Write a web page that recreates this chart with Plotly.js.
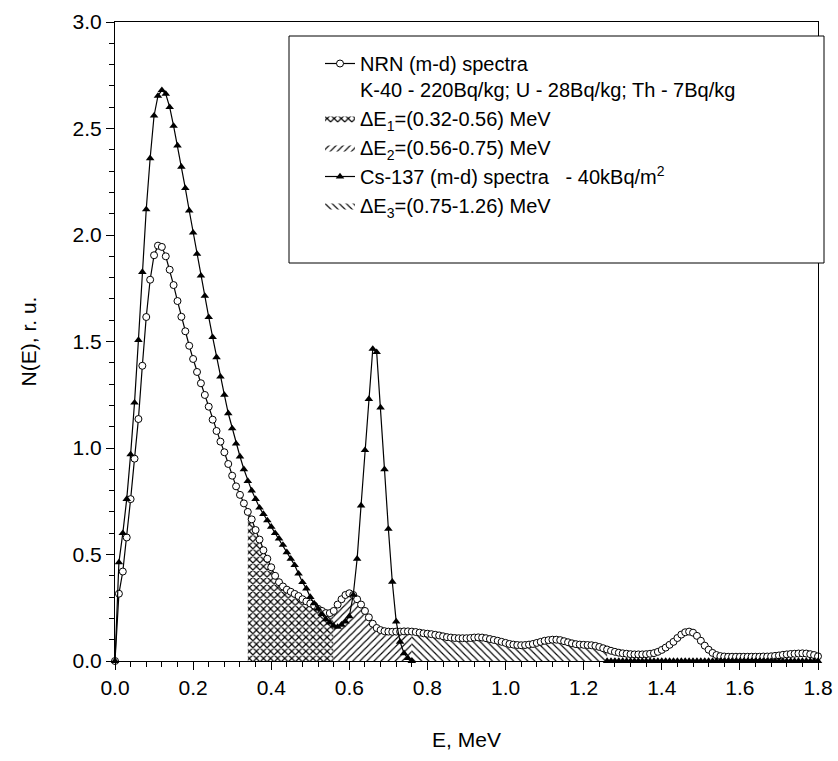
<!DOCTYPE html>
<html>
<head>
<meta charset="utf-8">
<script src="https://cdn.plot.ly/plotly-3.0.1.min.js"></script>
<style>html,body{margin:0;padding:0;background:#fff;}#chart{width:838px;height:761px;}</style>
</head>
<body>
<div id="chart"></div>
<script>
// Energy grid, MeV
const energy = [
0.00,0.01,0.02,0.03,0.04,0.05,0.06,0.07,0.08,0.09,
0.10,0.11,0.12,0.13,0.14,0.15,0.16,0.17,0.18,0.19,
0.20,0.21,0.22,0.23,0.24,0.25,0.26,0.27,0.28,0.29,
0.30,0.31,0.32,0.33,0.34,0.35,0.36,0.37,0.38,0.39,
0.40,0.41,0.42,0.43,0.44,0.45,0.46,0.47,0.48,0.49,
0.50,0.51,0.52,0.53,0.54,0.55,0.56,0.57,0.58,0.59,
0.60,0.61,0.62,0.63,0.64,0.65,0.66,0.67,0.68,0.69,
0.70,0.71,0.72,0.73,0.74,0.75,0.76,0.77,0.78,0.79,
0.80,0.81,0.82,0.83,0.84,0.85,0.86,0.87,0.88,0.89,
0.90,0.91,0.92,0.93,0.94,0.95,0.96,0.97,0.98,0.99,
1.00,1.01,1.02,1.03,1.04,1.05,1.06,1.07,1.08,1.09,
1.10,1.11,1.12,1.13,1.14,1.15,1.16,1.17,1.18,1.19,
1.20,1.21,1.22,1.23,1.24,1.25,1.26,1.27,1.28,1.29,
1.30,1.31,1.32,1.33,1.34,1.35,1.36,1.37,1.38,1.39,
1.40,1.41,1.42,1.43,1.44,1.45,1.46,1.47,1.48,1.49,
1.50,1.51,1.52,1.53,1.54,1.55,1.56,1.57,1.58,1.59,
1.60,1.61,1.62,1.63,1.64,1.65,1.66,1.67,1.68,1.69,
1.70,1.71,1.72,1.73,1.74,1.75,1.76,1.77,1.78,1.79,
1.80];

// NRN (m-d) spectrum
const nrn = [
0,0.316,0.42,0.58,0.76,0.95,1.136,1.386,1.615,1.79,
1.905,1.95,1.944,1.90,1.837,1.765,1.69,1.616,1.548,1.48,
1.418,1.357,1.304,1.249,1.194,1.133,1.08,1.03,0.98,0.925,
0.87,0.82,0.78,0.74,0.70,0.665,0.615,0.57,0.52,0.48,
0.44,0.40,0.37,0.35,0.335,0.325,0.315,0.305,0.29,0.28,
0.27,0.26,0.245,0.235,0.225,0.225,0.235,0.265,0.29,0.31,
0.318,0.31,0.29,0.265,0.235,0.205,0.175,0.155,0.145,0.14,
0.138,0.137,0.138,0.138,0.139,0.139,0.138,0.136,0.133,0.13,
0.128,0.126,0.123,0.12,0.116,0.112,0.11,0.108,0.107,0.107,
0.107,0.108,0.11,0.111,0.11,0.107,0.103,0.099,0.095,0.09,
0.085,0.08,0.077,0.075,0.074,0.075,0.077,0.08,0.085,0.09,
0.095,0.098,0.10,0.10,0.098,0.093,0.088,0.083,0.079,0.077,
0.076,0.075,0.074,0.071,0.066,0.06,0.054,0.048,0.043,0.039,
0.036,0.034,0.032,0.031,0.031,0.031,0.032,0.034,0.037,0.043,
0.052,0.063,0.076,0.09,0.108,0.124,0.135,0.138,0.133,0.118,
0.095,0.072,0.053,0.038,0.028,0.023,0.021,0.02,0.02,0.02,
0.02,0.02,0.02,0.02,0.02,0.02,0.021,0.021,0.022,0.024,
0.026,0.029,0.031,0.033,0.034,0.035,0.036,0.035,0.032,0.028,
0.022];

// Cs-137 (m-d) spectrum (points hidden under the dE3 fill left empty)
const cs137 = [
0,0.463,0.60,0.76,0.97,1.213,1.507,1.826,2.12,2.36,
2.56,2.653,2.68,2.662,2.60,2.512,2.42,2.32,2.22,2.115,
2.011,1.911,1.809,1.714,1.614,1.52,1.426,1.335,1.249,1.163,
1.092,1.02,0.96,0.90,0.845,0.80,0.76,0.72,0.69,0.66,
0.63,0.60,0.575,0.545,0.51,0.48,0.45,0.41,0.37,0.34,
0.30,0.27,0.245,0.22,0.195,0.18,0.165,0.16,0.17,0.185,
0.21,0.31,0.48,0.73,0.99,1.23,1.465,1.45,1.19,0.90,
0.62,0.372,0.185,0.09,0.036,0.013,0,null,null,null,
null,null,null,null,null,null,null,null,null,null,
null,null,null,null,null,null,null,null,null,null,
null,null,null,null,null,null,null,null,null,null,
null,null,null,null,null,null,null,null,null,null,
null,null,null,null,null,null,0,0,0,0,
0,0,0,0,0,0,0,0,0,0,
0,0,0,0,0,0,0,0,0,0,
0,0,0,0,0,0,0,0,0,0,
0,0,0,0,0,0,0,0,0,0,
0,0,0,0,0,0,0,0,0,0,
0];

// Energy windows (as drawn) and legend labels
const windowStart = [0.34, 0.56, 0.76];
const windowEnd   = [0.56, 0.76, 1.26];
const windowNames = ['&#916;E<sub>1</sub>=(0.32-0.56) MeV',
                     '&#916;E<sub>2</sub>=(0.56-0.75) MeV',
                     '&#916;E<sub>3</sub>=(0.75-1.26) MeV'];
const windowShapes = ['x', '/', '\\'];
const windowRanks = [2, 3, 5];

const nrnName = 'NRN (m-d) spectra<br>K-40 - 220Bq/kg; U - 28Bq/kg; Th - 7Bq/kg';
const csName = 'Cs-137 (m-d) spectra&nbsp;&nbsp; - 40kBq/m<sup>2</sup>';

const traces = [];
for (let k = 0; k < windowStart.length; k++) {
  const xs = [], ys = [];
  for (let i = 0; i < energy.length; i++) {
    if (energy[i] >= windowStart[k] - 1e-9 && energy[i] <= windowEnd[k] + 1e-9) {
      xs.push(energy[i]); ys.push(nrn[i]);
    }
  }
  traces.push({
    x: xs, y: ys, type: 'scatter', mode: 'lines', name: windowNames[k],
    fill: 'tozeroy', fillcolor: 'white',
    line: {width: 0, color: 'black'},
    fillpattern: {shape: windowShapes[k], size: 5, solidity: k === 0 ? 0.42 : 0.22,
                  fgcolor: 'black', bgcolor: 'white'},
    legendrank: windowRanks[k], hoverinfo: 'skip'
  });
}
traces.push({
  x: energy, y: nrn, type: 'scatter', mode: 'lines+markers', name: nrnName,
  line: {color: 'black', width: 1.2},
  marker: {symbol: 'circle', size: 7, color: 'white', line: {color: 'black', width: 1}},
  cliponaxis: false, legendrank: 1
});
traces.push({
  x: energy, y: cs137, type: 'scatter', mode: 'lines+markers', name: csName,
  connectgaps: false,
  line: {color: 'black', width: 1.2},
  marker: {symbol: 'triangle-up', size: 7.5, color: 'black'},
  cliponaxis: false, legendrank: 4
});

const plotL = 115, plotR = 818, plotT = 22, plotB = 661;
const pw = plotR - plotL, ph = plotB - plotT;

const layout = {
  width: 838, height: 761,
  margin: {l: plotL, r: 838 - plotR, t: plotT, b: 761 - plotB},
  paper_bgcolor: 'white', plot_bgcolor: 'white',
  font: {family: 'Liberation Sans, Arial, sans-serif', size: 21, color: 'black'},
  showlegend: true,
  legend: {x: (320 - plotL) / pw, y: (plotB - 44) / ph, xanchor: 'left', yanchor: 'top',
           bgcolor: 'rgba(0,0,0,0)', borderwidth: 0, valign: 'top',
           traceorder: 'normal', font: {size: 20}},
  xaxis: {range: [0, 1.8], tick0: 0, dtick: 0.2, tickformat: '.1f',
          ticks: 'outside', ticklen: 8, tickwidth: 1, tickcolor: 'black',
          showline: true, linecolor: 'black', linewidth: 1, mirror: true,
          showgrid: false, zeroline: false,
          minor: {dtick: 0.04, ticks: 'outside', ticklen: 5, tickwidth: 1, tickcolor: 'black', showgrid: false},
          tickfont: {size: 21},
          title: {text: 'E, MeV', font: {size: 21}, standoff: 34}},
  yaxis: {range: [0, 3], tick0: 0, dtick: 0.5, tickformat: '.1f',
          ticks: 'outside', ticklen: 8, tickwidth: 1, tickcolor: 'black',
          showline: true, linecolor: 'black', linewidth: 1, mirror: true,
          showgrid: false, zeroline: false,
          minor: {dtick: 0.1, ticks: 'outside', ticklen: 5, tickwidth: 1, tickcolor: 'black', showgrid: false},
          tickfont: {size: 21},
          title: {text: 'N(E), r. u.', font: {size: 21}, standoff: 30}},
  shapes: [{type: 'rect', xref: 'paper', yref: 'paper',
            x0: (289 - plotL) / pw, x1: (824 - plotL) / pw,
            y0: (plotB - 263) / ph, y1: (plotB - 36) / ph,
            line: {color: 'black', width: 1}, fillcolor: 'white', layer: 'above'}]
};

Plotly.newPlot('chart', traces, layout, {staticPlot: true, displayModeBar: false});
</script>
</body>
</html>
